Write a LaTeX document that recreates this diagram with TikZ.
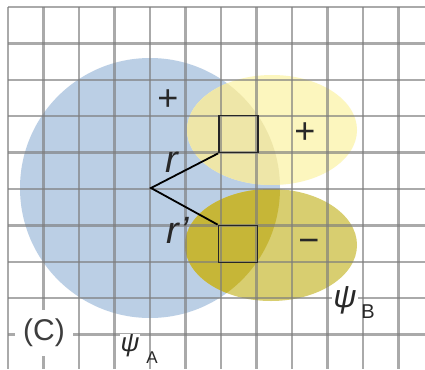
\documentclass[tikz,border=0pt]{standalone}
\usepackage{fontspec}
\setmainfont{Liberation Sans}

\definecolor{bleuA}{RGB}{187,207,229}
\definecolor{jauneB}{RGB}{252,246,190}
\definecolor{jauneBfonce}{RGB}{238,230,168}
\definecolor{oliveB}{RGB}{216,206,112}
\definecolor{oliveBfonce}{RGB}{198,182,55}
\definecolor{grille}{RGB}{125,125,125}
\definecolor{encre}{RGB}{40,40,40}

\begin{document}
\begin{tikzpicture}[x=1pt,y=-1pt,
  boite/.style={draw=black!85,line width=1.8pt,minimum width=39pt,minimum height=37pt,inner sep=0pt},
  trait/.style={line width=2.4pt,draw=grille,draw opacity=0.65},
  signe/.style={text=encre,font=\fontsize{36}{36}\selectfont},
  lettre/.style={text=encre,font=\fontsize{38}{38}\selectfont\itshape},
  psi/.style={text=encre,fill=white,inner sep=1pt,font=\itshape}]

\useasboundingbox (0,0) rectangle (425,369);
\fill[white] (0,0) rectangle (425,369);

% Orbitale A
\fill[bleuA] (150,188) circle (130);

% Orbitale B, lobe +
\fill[jauneB] (272,130) ellipse (85 and 55);
\begin{scope}
\clip (150,188) circle (130);
\fill[jauneBfonce] (272,130) ellipse (85 and 55);
\end{scope}

% Orbitale B, lobe -
\fill[oliveB] (271,245) ellipse (86 and 56);
\begin{scope}
\clip (150,188) circle (130);
\fill[oliveBfonce] (271,245) ellipse (86 and 56);
\end{scope}

% Grille
\begin{scope}
\clip (0,0) rectangle (425,369);
\foreach \i in {0,...,11}
{
    \draw[trait] ({8+35.5*\i},7) -- ({8+35.5*\i},369);
}
\foreach \j in {0,...,10}
{
    \draw[trait] (8,{7+36.4*\j}) -- (425,{7+36.4*\j});
}
\end{scope}

% Volumes et distances
\coordinate (sommet) at (151,188);
\node[boite] (carreHaut) at (238.5,134) {};
\node[boite] (carreBas) at (238,244) {};
\draw[line width=1.8pt] (carreHaut.south west) -- (sommet) -- (carreBas.north west);

\node[lettre] (r) at (172,162) {r};
\node[lettre] (rprime) at (178,230) {r’};

% Signes
\node[signe] (plusA) at (168,100) {+};
\node[signe] (plusB) at (305,133) {+};
\node[signe] (moinsB) at (309,246) {−};

% Etiquettes
\node[fill=white,text=encre!90,inner xsep=8pt,inner ysep=9pt,font=\fontsize{30}{30}\selectfont] (cas) at (44,333) {(C)};
\node[psi,font=\fontsize{26}{26}\selectfont\itshape] (psiA) at (130,346) {ψ};
\node[text=encre,font=\fontsize{17}{17}\selectfont] (indiceA) at (152,358) {A};
\node[psi,font=\fontsize{32}{32}\selectfont\itshape] (psiB) at (345,300) {ψ};
\node[text=encre,font=\fontsize{20}{20}\selectfont] (indiceB) at (368,312) {B};

\end{tikzpicture}
\end{document}
